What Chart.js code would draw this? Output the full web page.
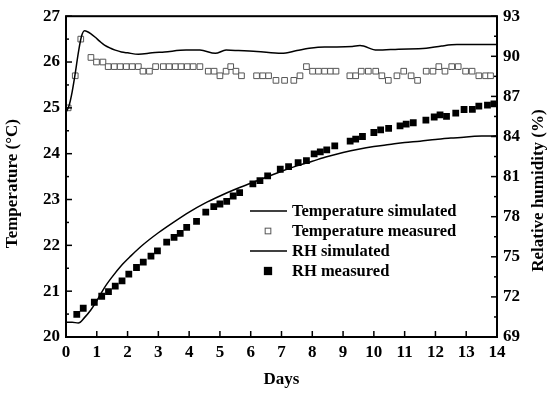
<!DOCTYPE html>
<html>
<head>
<meta charset="utf-8">
<script src="https://cdn.jsdelivr.net/npm/chart.js@4.4.1/dist/chart.umd.min.js"></script>
<style>
  html, body { margin: 0; padding: 0; background: #fff; }
  #wrap { width: 550px; height: 395px; }
</style>
</head>
<body>
<div id="wrap"><canvas id="chart" width="550" height="395"></canvas></div>
<script>
// data
const dayTicks = [0, 1, 2, 3, 4, 5, 6, 7, 8, 9, 10, 11, 12, 13, 14];
const tempTicks = [20, 21, 22, 23, 24, 25, 26, 27];
const rhTicks = [69, 72, 75, 78, 81, 84, 87, 90, 93];

const tempSimDays = [0, 0.1, 0.2, 0.3, 0.4, 0.5, 0.6, 0.7, 0.8, 0.95, 1.1, 1.25, 1.45, 1.6, 1.8, 2.0, 2.35, 2.8, 3.2, 3.9, 4.35, 4.85, 5.2, 5.6, 6.2, 7.0, 7.5, 7.9, 8.4, 8.8, 9.3, 9.55, 10.1, 10.8, 11.7, 12.2, 12.7, 13.3, 14];
const tempSimValues = [24.9, 25.05, 25.35, 25.75, 26.2, 26.55, 26.68, 26.66, 26.62, 26.54, 26.45, 26.37, 26.3, 26.26, 26.22, 26.2, 26.17, 26.2, 26.22, 26.26, 26.26, 26.19, 26.26, 26.25, 26.23, 26.19, 26.25, 26.3, 26.33, 26.33, 26.34, 26.36, 26.26, 26.28, 26.3, 26.35, 26.38, 26.38, 26.38];

const tempMeasDays = [0.07, 0.3, 0.48, 0.81, 0.99, 1.2, 1.37, 1.57, 1.76, 1.96, 2.15, 2.35, 2.5, 2.71, 2.91, 3.16, 3.35, 3.55, 3.74, 3.94, 4.13, 4.35, 4.62, 4.81, 5.0, 5.2, 5.35, 5.52, 5.7, 6.19, 6.39, 6.58, 6.82, 7.1, 7.4, 7.6, 7.81, 8.01, 8.2, 8.4, 8.59, 8.77, 9.22, 9.41, 9.59, 9.82, 10.06, 10.26, 10.47, 10.75, 10.97, 11.21, 11.42, 11.7, 11.92, 12.11, 12.31, 12.53, 12.74, 12.98, 13.19, 13.41, 13.63, 13.79];
const tempMeasValues = [25.0, 25.7, 26.5, 26.1, 26.0, 26.0, 25.9, 25.9, 25.9, 25.9, 25.9, 25.9, 25.8, 25.8, 25.9, 25.9, 25.9, 25.9, 25.9, 25.9, 25.9, 25.9, 25.8, 25.8, 25.7, 25.8, 25.9, 25.8, 25.7, 25.7, 25.7, 25.7, 25.6, 25.6, 25.6, 25.7, 25.9, 25.8, 25.8, 25.8, 25.8, 25.8, 25.7, 25.7, 25.8, 25.8, 25.8, 25.7, 25.6, 25.7, 25.8, 25.7, 25.6, 25.8, 25.8, 25.9, 25.8, 25.9, 25.9, 25.8, 25.8, 25.7, 25.7, 25.7];

const rhSimDays = [0, 0.2, 0.4, 0.6, 0.8, 1.0, 1.25, 1.5, 1.8, 2.1, 2.5, 3.0, 3.5, 4.0, 4.5, 5.0, 5.5, 6.0, 6.5, 7.0, 7.5, 8.0, 8.5, 9.0, 9.5, 10.0, 10.5, 11.0, 11.5, 12.0, 12.5, 13.0, 13.5, 14];
const rhSimValues = [70.1, 70.1, 70.05, 70.45, 71.0, 71.7, 72.7, 73.5, 74.35, 75.05, 75.9, 76.8, 77.6, 78.35, 79.0, 79.55, 80.05, 80.5, 80.95, 81.4, 81.8, 82.15, 82.5, 82.8, 83.05, 83.25, 83.4, 83.55, 83.65, 83.78, 83.88, 83.97, 84.03, 84.05];

const rhMeasDays = [0.35, 0.56, 0.92, 1.16, 1.38, 1.6, 1.82, 2.04, 2.29, 2.51, 2.76, 2.97, 3.27, 3.51, 3.71, 3.92, 4.24, 4.54, 4.8, 5.0, 5.22, 5.43, 5.64, 6.07, 6.3, 6.55, 6.96, 7.23, 7.54, 7.81, 8.06, 8.26, 8.47, 8.73, 9.23, 9.41, 9.63, 10.0, 10.22, 10.48, 10.85, 11.05, 11.28, 11.69, 11.96, 12.15, 12.36, 12.66, 12.93, 13.2, 13.41, 13.69, 13.9];
const rhMeasValues = [70.7, 71.15, 71.6, 72.05, 72.4, 72.8, 73.2, 73.7, 74.2, 74.6, 75.05, 75.45, 76.1, 76.45, 76.75, 77.2, 77.65, 78.35, 78.75, 78.95, 79.15, 79.55, 79.8, 80.45, 80.7, 81.05, 81.55, 81.75, 82.05, 82.2, 82.7, 82.85, 83.0, 83.3, 83.65, 83.8, 84.0, 84.3, 84.5, 84.6, 84.8, 84.93, 85.03, 85.22, 85.46, 85.62, 85.5, 85.75, 86.02, 86.03, 86.27, 86.35, 86.44];

const FONT = "'Liberation Serif', 'Times New Roman', serif";

function toXY(days, values) {
    return days.map((d, i) => ({ x: d, y: values[i] }));
}

function setTicks(list) {
    return (scale) => { scale.ticks = list.map(v => ({ value: v })); };
}

// inward tick marks and the box round the plot
const framePlugin = {
    id: 'frame',
    afterDatasetsDraw(chart) {
        const { ctx, chartArea: a, scales } = chart;
        ctx.save();
        ctx.strokeStyle = '#000';
        ctx.lineWidth = 1.5;
        const seg = (x1, y1, x2, y2) => { ctx.beginPath(); ctx.moveTo(x1, y1); ctx.lineTo(x2, y2); ctx.stroke(); };

        dayTicks.forEach(v => {
            const px = scales.x.getPixelForValue(v);
            seg(px, a.bottom, px, a.bottom - 6);
        });
        tempTicks.forEach((v, i) => {
            let py = scales.y.getPixelForValue(v);
            seg(a.left, py, a.left + 6, py);
            if (i < tempTicks.length - 1) {
                py = scales.y.getPixelForValue((v + tempTicks[i + 1]) / 2);
                seg(a.left, py, a.left + 3, py);
            }
        });
        rhTicks.forEach((v, i) => {
            let py = scales.yRH.getPixelForValue(v);
            seg(a.right, py, a.right - 6, py);
            if (i < rhTicks.length - 1) {
                py = scales.yRH.getPixelForValue((v + rhTicks[i + 1]) / 2);
                seg(a.right, py, a.right - 3, py);
            }
        });

        ctx.lineWidth = 2;
        ctx.strokeRect(a.left, a.top, a.right - a.left, a.bottom - a.top);
        ctx.restore();
    }
};

// both y titles read bottom to top
const titlePlugin = {
    id: 'ytitles',
    afterDraw(chart) {
        const { ctx, chartArea: a } = chart;
        const mid = (a.top + a.bottom) / 2;
        ctx.save();
        ctx.fillStyle = '#000';
        ctx.font = 'bold 17px ' + FONT;
        ctx.textAlign = 'center';
        ctx.textBaseline = 'middle';
        [['Temperature (°C)', 13, mid + 7], ['Relative humidity (%)', 539, mid + 14]].forEach(([t, x, y]) => {
            ctx.save();
            ctx.translate(x, y);
            ctx.rotate(-Math.PI / 2);
            ctx.fillText(t, 0, 0);
            ctx.restore();
        });
        ctx.restore();
    }
};

// legend sits inside the plot
const legendPlugin = {
    id: 'innerLegend',
    afterDraw(chart) {
        const { ctx } = chart;
        ctx.save();
        ctx.font = 'bold 16.5px ' + FONT;
        ctx.textBaseline = 'middle';
        ctx.fillStyle = '#000';
        chart.data.datasets.forEach((ds, i) => {
            const y = 211 + i * 20;
            if (ds.showLine === false) {
                const s = ds.pointRadius * Math.SQRT1_2;
                ctx.fillStyle = ds.pointBackgroundColor;
                ctx.fillRect(268 - s, y - s, 2 * s, 2 * s);
                ctx.strokeStyle = ds.pointBorderColor;
                ctx.lineWidth = ds.pointBorderWidth;
                ctx.strokeRect(268 - s, y - s, 2 * s, 2 * s);
            } else {
                ctx.strokeStyle = ds.borderColor;
                ctx.lineWidth = ds.borderWidth;
                ctx.beginPath();
                ctx.moveTo(250, y);
                ctx.lineTo(287, y);
                ctx.stroke();
            }
            ctx.fillStyle = '#000';
            ctx.fillText(ds.label, 292, y + 1);
        });
        ctx.restore();
    }
};

const tickFont = { family: FONT, size: 17, weight: 'bold' };
const noGrid = { display: false, drawTicks: false, tickLength: 0 };

new Chart(document.getElementById('chart'), {
    type: 'scatter',
    data: {
        datasets: [
            {
                label: 'Temperature simulated',
                data: toXY(tempSimDays, tempSimValues),
                yAxisID: 'y',
                showLine: true,
                borderColor: '#000',
                borderWidth: 1.5,
                pointRadius: 0,
                cubicInterpolationMode: 'monotone'
            },
            {
                label: 'Temperature measured',
                data: toXY(tempMeasDays, tempMeasValues),
                yAxisID: 'y',
                showLine: false,
                pointStyle: 'rect',
                pointRadius: 4,
                pointBackgroundColor: '#fff',
                pointBorderColor: '#555',
                pointBorderWidth: 1
            },
            {
                label: 'RH simulated',
                data: toXY(rhSimDays, rhSimValues),
                yAxisID: 'yRH',
                showLine: true,
                borderColor: '#000',
                borderWidth: 1.5,
                pointRadius: 0,
                cubicInterpolationMode: 'monotone'
            },
            {
                label: 'RH measured',
                data: toXY(rhMeasDays, rhMeasValues),
                yAxisID: 'yRH',
                showLine: false,
                pointStyle: 'rect',
                pointRadius: 4.8,
                pointBackgroundColor: '#000',
                pointBorderColor: '#000',
                pointBorderWidth: 0
            }
        ]
    },
    options: {
        responsive: false,
        animation: false,
        devicePixelRatio: 1,
        layout: { padding: { top: 15, left: 0, right: 0, bottom: 0 } },
        plugins: { legend: { display: false }, tooltip: { enabled: false } },
        scales: {
            x: {
                type: 'linear',
                min: 0,
                max: 14,
                afterBuildTicks: setTicks(dayTicks),
                afterFit: (s) => { s.height = 58; },
                grid: noGrid,
                border: { display: false },
                ticks: { font: tickFont, color: '#000', padding: 5, autoSkip: false, maxRotation: 0 },
                title: { display: true, text: 'Days', font: tickFont, color: '#000', padding: { top: 0, bottom: 5 } }
            },
            y: {
                position: 'left',
                min: 20,
                max: 27,
                afterBuildTicks: setTicks(tempTicks),
                afterFit: (s) => { s.width = 66; },
                grid: noGrid,
                border: { display: false },
                ticks: { font: tickFont, color: '#000', padding: 6 }
            },
            yRH: {
                position: 'right',
                min: 69,
                max: 93,
                afterBuildTicks: setTicks(rhTicks),
                afterFit: (s) => { s.width = 53; },
                grid: noGrid,
                border: { display: false },
                ticks: { font: tickFont, color: '#000', padding: 6 }
            }
        }
    },
    plugins: [framePlugin, titlePlugin, legendPlugin]
});
</script>
</body>
</html>
